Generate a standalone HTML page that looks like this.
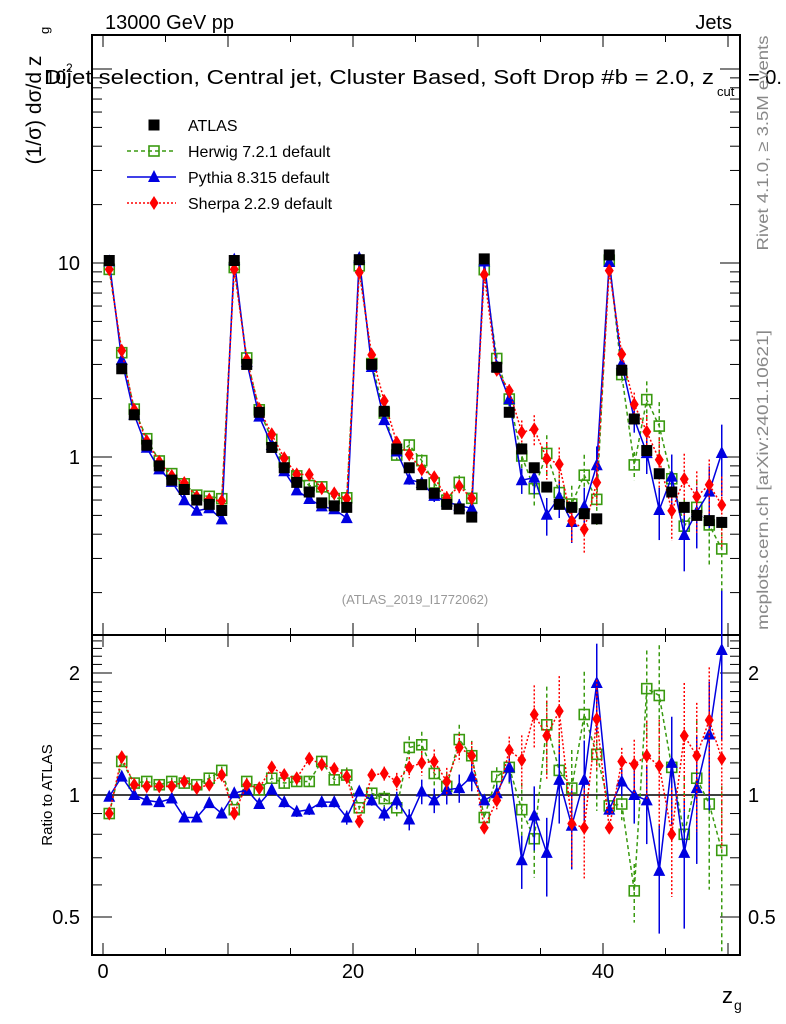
<!DOCTYPE html>
<html><head><meta charset="utf-8"><style>
html,body{margin:0;padding:0;background:#fff;}
svg{display:block;font-family:"Liberation Sans",sans-serif;}
</style></head><body>
<svg id="c" width="786" height="1024" viewBox="0 0 786 1024"></svg>
<script>
const bins = Array.from({length:50},(_,i)=>i+0.5);
const atlas = [10.3,2.85,1.65,1.15,0.9,0.76,0.68,0.6,0.57,0.53,
 10.3,3.0,1.7,1.12,0.88,0.74,0.66,0.58,0.56,0.55,
 10.4,3.0,1.72,1.1,0.88,0.72,0.65,0.57,0.54,0.49,
 10.5,2.9,1.7,1.1,0.88,0.7,0.57,0.55,0.51,0.48,
 11.0,2.8,1.57,1.08,0.82,0.66,0.55,0.5,0.47,0.46];
const herwigRatio = [0.90,1.21,1.07,1.08,1.06,1.08,1.07,1.06,1.10,1.15,
 0.92,1.08,1.03,1.10,1.07,1.08,1.08,1.21,1.09,1.12,
 0.93,1.01,0.98,0.93,1.31,1.33,1.13,1.05,1.37,1.25,
 0.88,1.11,1.17,0.92,0.78,1.49,1.15,1.04,1.58,1.26,
 0.94,0.95,0.58,1.83,1.76,1.17,0.80,1.10,0.95,0.73];
const pythiaRatio = [0.99,1.11,1.0,0.97,0.96,0.98,0.88,0.88,0.955,0.90,
 1.01,1.03,0.95,1.03,0.96,0.91,0.92,0.96,0.96,0.88,
 1.02,0.97,0.90,0.97,0.87,1.02,0.97,1.03,1.04,1.11,
 0.97,1.01,1.17,0.69,0.89,0.72,1.09,0.84,1.09,1.89,
 0.92,1.08,1.0,0.97,0.65,1.20,0.72,1.04,1.41,2.28];
const sherpaRatio = [0.90,1.24,1.06,1.05,1.05,1.05,1.08,1.04,1.06,1.12,
 0.90,1.06,1.04,1.17,1.12,1.10,1.23,1.19,1.16,1.11,
 0.86,1.12,1.13,1.08,1.17,1.20,1.21,1.08,1.31,1.25,
 0.83,0.97,1.29,1.22,1.58,1.40,1.61,0.85,0.83,1.54,
 0.83,1.21,1.19,1.25,1.18,0.80,1.40,1.25,1.53,1.23];
const relErr = [0.01,0.02,0.02,0.02,0.02,0.02,0.02,0.02,0.02,0.02,
 0.01,0.02,0.02,0.02,0.03,0.03,0.03,0.03,0.03,0.04,
 0.01,0.03,0.04,0.05,0.06,0.07,0.07,0.08,0.08,0.08,
 0.02,0.05,0.08,0.15,0.18,0.22,0.22,0.22,0.25,0.25,
 0.03,0.08,0.15,0.22,0.3,0.3,0.35,0.35,0.35,0.4];
const mainTicks = [1,10,100];
const ratioTicks = [0.5,1,2];
const xTickLabels = [0,20,40];

const svg=document.getElementById('c');
const NS='http://www.w3.org/2000/svg';
const L=92,R=740,T1=35,B1=635,B2=955;
const X=v=>103+12.5*v;
const Y1=v=>457-194*Math.log10(v);
const Y2=v=>795-122*Math.log2(v);
function el(tag,a,parent){const e=document.createElementNS(NS,tag);for(const k in a)e.setAttribute(k,a[k]);(parent||svg).appendChild(e);return e;}
function txt(s,a,parent){const e=el('text',a,parent);e.textContent=s;return e;}

const f1=el('rect',{x:L,y:T1,width:R-L,height:B1-T1,fill:'none',stroke:'#000','stroke-width':2});


const f2=el('rect',{x:L,y:B1,width:R-L,height:B2-B1,fill:'none',stroke:'#000','stroke-width':2});



const xt=el('g',{stroke:'#000','stroke-width':1});


for(let v=0;v<=50;v+=5){const len=v%10===0?12:7;
 [[B1,-1],[T1,1],[B2,-1],[B1,1]].forEach(([y,d])=>el('line',{x1:X(v),x2:X(v),y1:y,y2:y+d*len},xt));}
xTickLabels.forEach(v=>{const t=txt(String(v),{x:X(v),y:978,'font-size':20,'text-anchor':'middle'});
 
 });
const xl=txt('z',{x:722,y:1003,'font-size':22});


txt('g',{x:734,y:1010,'font-size':14});

const yt=el('g',{stroke:'#000','stroke-width':1});


for(let d=0.1;d<200;d*=10){for(let m=1;m<10;m++){const v=d*m;const y=Y1(v);if(y<T1||y>B1)continue;
 const len=m===1?20:10;el('line',{x1:L,x2:L+len,y1:y,y2:y},yt);el('line',{x1:R,x2:R-len,y1:y,y2:y},yt);}}
const yl1=txt('1',{x:80,y:464,'font-size':20,'text-anchor':'end'});


const yl10=txt('10',{x:80,y:270,'font-size':20,'text-anchor':'end'});


txt('10',{x:45,y:84,'font-size':19});txt('2',{x:66,y:72,'font-size':12});

const yTitle=el('g',{transform:'translate(41,110) rotate(-90)'});


txt('(1/σ) dσ/d z',{x:0,y:0,'font-size':21,'text-anchor':'middle'},yTitle);
txt('g',{x:76,y:8,'font-size':13},yTitle);

for(let v=0.4;v<=2.5;v+=0.1){const y=Y2(v);if(y<B1||y>B2)continue;
 const major=[0.5,1,2].some(m=>Math.abs(m-v)<1e-6);const len=major?20:10;
 el('line',{x1:L,x2:L+len,y1:y,y2:y,stroke:'#000'});el('line',{x1:R,x2:R-len,y1:y,y2:y,stroke:'#000'});}
ratioTicks.forEach(v=>{const a=txt(String(v),{x:80,y:Y2(v)+7,'font-size':20,'text-anchor':'end'});
 
 
 const b=txt(String(v),{x:748,y:Y2(v)+7,'font-size':20});
 
 });
el('line',{x1:L,x2:R,y1:Y2(1),y2:Y2(1),stroke:'#000','stroke-width':1.5});
const rt=txt('Ratio to ATLAS',{x:0,y:0,'font-size':15,'text-anchor':'middle',transform:'translate(52,795) rotate(-90)'});



const t1=txt('13000 GeV pp',{x:105,y:29,'font-size':20});


const t2=txt('Jets',{x:732,y:29,'font-size':20,'text-anchor':'end'});


const t3=txt('Dijet selection, Central jet, Cluster Based, Soft Drop #b = 2.0, z',{x:44,y:84,'font-size':20,textLength:670,lengthAdjust:'spacingAndGlyphs'});


txt('cut',{x:717,y:96,'font-size':13});txt('= 0.',{x:748,y:84,'font-size':20});
const r1=txt('Rivet 4.1.0, ≥ 3.5M events',{x:0,y:0,'font-size':16,fill:'#888','text-anchor':'middle',textLength:215,lengthAdjust:'spacingAndGlyphs',transform:'translate(768,143) rotate(-90)'});


const r2=txt('mcplots.cern.ch [arXiv:2401.10621]',{x:0,y:0,'font-size':16,fill:'#888','text-anchor':'middle',textLength:300,lengthAdjust:'spacingAndGlyphs',transform:'translate(768,480) rotate(-90)'});


const an=txt('(ATLAS_2019_I1772062)',{x:415,y:604,'font-size':13,fill:'#999','text-anchor':'middle'});



function marker(type,x,y,color,g){
 if(type==='sq')el('rect',{x:x-5.5,y:y-5.5,width:11,height:11,fill:'#000'},g);
 else if(type==='osq')el('rect',{x:x-5,y:y-5,width:10,height:10,fill:'none',stroke:color,'stroke-width':1.6},g);
 else if(type==='tri')el('polygon',{points:`${x},${y-7} ${x-6},${y+5} ${x+6},${y+5}`,fill:color},g);
 else el('polygon',{points:`${x},${y-7} ${x-4.5},${y} ${x},${y+7} ${x+4.5},${y}`,fill:color},g);}

const models=[
 {name:'herwig',ratio:herwigRatio,color:'#3a9a10',dash:'4,3',m:'osq',ef:1.1},
 {name:'pythia',ratio:pythiaRatio,color:'#0000e0',dash:'',m:'tri',ef:1.0},
 {name:'sherpa',ratio:sherpaRatio,color:'#ff0000',dash:'2,2',m:'dia',ef:1.0}];
models.forEach(mo=>{
 ['main','ratio'].forEach(p=>{
  const g=el('g',{});
  
  
  const val=i=>p==='main'?atlas[i]*mo.ratio[i]:mo.ratio[i];
  const Y=p==='main'?Y1:Y2;
  const pts=bins.map((b,i)=>X(b)+','+Y(val(i)));
  el('polyline',{points:pts.join(' '),fill:'none',stroke:mo.color,'stroke-width':1.5,'stroke-dasharray':mo.dash},g);
  bins.forEach((b,i)=>{const v=val(i),e=relErr[i]*mo.ef;
   const y1=Math.max(Y(v*(1+e)),B1-600),y2=Math.min(Y(Math.max(v*(1-e),0.01)),p==='main'?B1:B2);
   el('line',{x1:X(b),x2:X(b),y1:y1,y2:y2,stroke:mo.color,'stroke-width':1.5,'stroke-dasharray':mo.dash},g);
   marker(mo.m,X(b),Y(v),mo.color,g);});
 });
});
const ag=el('g',{});


bins.forEach((b,i)=>marker('sq',X(b),Y1(atlas[i]),'#000',ag));

const leg=el('g',{});


const entries=[['ATLAS',null],['Herwig 7.2.1 default',models[0]],['Pythia 8.315 default',models[1]],['Sherpa 2.2.9 default',models[2]]];
entries.forEach(([label,mo],k)=>{
 const y=125+26*k;
 const g=el('g',{},leg);
 
 
 if(mo){el('line',{x1:127,x2:176,y1:y,y2:y,stroke:mo.color,'stroke-width':1.5,'stroke-dasharray':mo.dash},g);marker(mo.m,154,y,mo.color,g);}
 else marker('sq',154,y,'#000',g);
 txt(label,{x:188,y:y+6,'font-size':16},g);});
</script>
</body></html>
